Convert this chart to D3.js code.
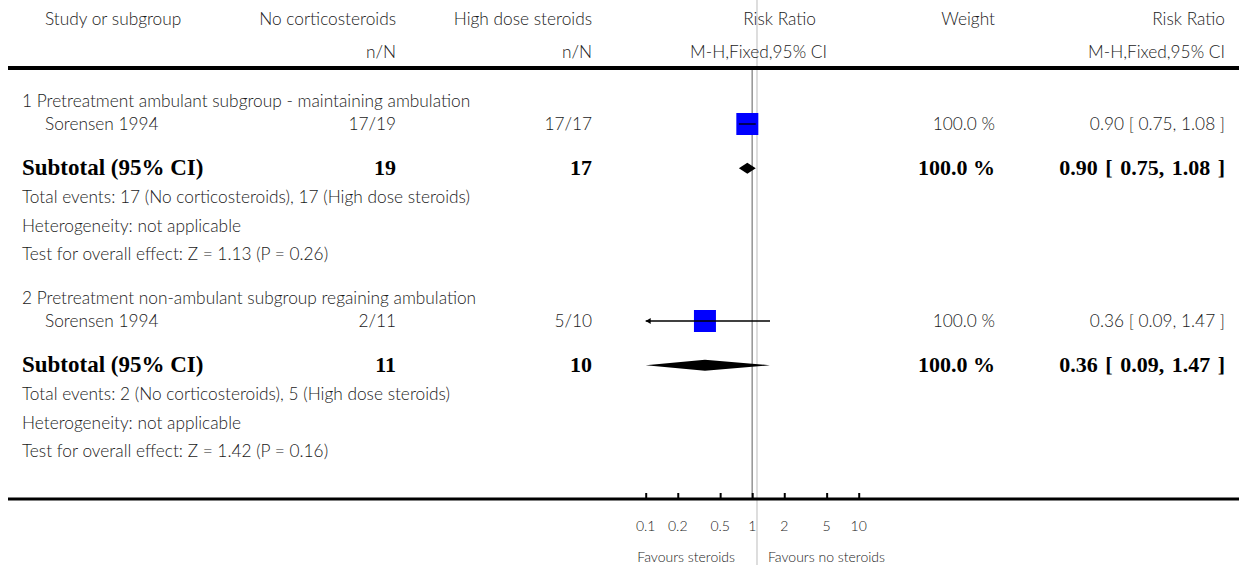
<!DOCTYPE html>
<html>
<head>
<meta charset="utf-8">
<script src="https://cdn.jsdelivr.net/npm/d3@7"></script>
<style>
  html, body { margin: 0; padding: 0; background: #fff; }
  svg { display: block; }
  .t { font-family: Lato, "Open Sans", sans-serif; font-size: 17.3px; font-weight: 300; fill: #1a1a1a; }
  .b { font-family: "Liberation Serif", "Times New Roman", serif; font-weight: bold; font-size: 22px; fill: #000; }
  .b.lab { font-size: 23px; }
  .b.ci { word-spacing: 2px; }
  .tick { font-family: Lato, sans-serif; font-size: 14px; font-weight: 300; fill: #1a1a1a; }
</style>
</head>
<body>
<svg id="chart" width="1239" height="565"></svg>
<script>
// ---------- data ----------
const headers1 = ["Study or subgroup", "No corticosteroids", "High dose steroids", "Risk Ratio", "Weight", "Risk Ratio"];
const headers2 = ["", "n/N", "n/N", "M-H,Fixed,95% CI", "", "M-H,Fixed,95% CI"];
const groupLabels = [
  "1 Pretreatment ambulant subgroup - maintaining ambulation",
  "2 Pretreatment non-ambulant subgroup regaining ambulation"
];
const studyNames = ["Sorensen 1994", "Sorensen 1994"];
const noCortico = ["17/19", "2/11"];
const highDose = ["17/17", "5/10"];
const studyRR = [0.90, 0.36];
const studyLo = [0.75, 0.09];
const studyHi = [1.08, 1.47];
const studyWeight = [100.0, 100.0];
const subtotalN1 = [19, 11];
const subtotalN2 = [17, 10];
const subRR = [0.90, 0.36];
const subLo = [0.75, 0.09];
const subHi = [1.08, 1.47];
const subWeight = [100.0, 100.0];
const totalEvents = [
  "Total events: 17 (No corticosteroids), 17 (High dose steroids)",
  "Total events: 2 (No corticosteroids), 5 (High dose steroids)"
];
const heterogeneity = ["Heterogeneity: not applicable", "Heterogeneity: not applicable"];
const overallEffect = [
  "Test for overall effect: Z = 1.13 (P = 0.26)",
  "Test for overall effect: Z = 1.42 (P = 0.16)"
];
const tickValues = [0.1, 0.2, 0.5, 1, 2, 5, 10];
const tickLabels = ["0.1", "0.2", "0.5", "1", "2", "5", "10"];
const favoursLeft = "Favours steroids";
const favoursRight = "Favours no steroids";

// ---------- layout ----------
const W = 1239, H = 565;
const svg = d3.select("#chart");
const x = d3.scaleLog().domain([0.1, 10]).range([645.7, 858.7]);
const boxSize = d3.scaleSqrt().domain([0, 100]).range([0, 22]);
const col = { study: 45, group: 22, n1: 396, n2: 592, rrHead: 816, rrSub: 827, weight: 995, ci: 1225 };
const axisY = 499;
const headerLineY = 68;

const fmt2 = d3.format(".2f");
const ciText = (r, l, h) => `${fmt2(r)} [ ${fmt2(l)}, ${fmt2(h)} ]`;
const wText = w => `${d3.format(".1f")(w)} %`;

// background light line
svg.append("line").attr("x1", 757).attr("x2", 757).attr("y1", 0).attr("y2", H)
  .attr("stroke", "#d8d8d8").attr("stroke-width", 1.7);

// null line
svg.append("line").attr("x1", x(1)).attr("x2", x(1)).attr("y1", headerLineY).attr("y2", axisY)
  .attr("stroke", "#9a9a9a").attr("stroke-width", 1.6);

// header
const hx = [col.study, col.n1, col.n2, col.rrHead, col.weight, col.ci];
const hAnchor = ["start", "end", "end", "end", "end", "end"];
headers1.forEach((h, i) => {
  svg.append("text").attr("class", "t").attr("x", hx[i]).attr("y", 25).attr("text-anchor", hAnchor[i]).text(h);
});
const hx2 = [col.study, col.n1, col.n2, col.rrSub, col.weight, col.ci];
headers2.forEach((h, i) => {
  if (!h) return;
  svg.append("text").attr("class", "t").attr("x", hx2[i]).attr("y", 58).attr("text-anchor", "end").text(h);
});
svg.append("line").attr("x1", 8).attr("x2", W).attr("y1", headerLineY).attr("y2", headerLineY)
  .attr("stroke", "#000").attr("stroke-width", 4);

// groups
const groupTop = [107, 304];
groupLabels.forEach((g, i) => {
  const y0 = groupTop[i];
  const yStudy = y0 + 23, ySub = y0 + 68, yTot = y0 + 96, yHet = y0 + 125, yTest = y0 + 153;
  const cyStudy = y0 + 17, cySub = y0 + 61.3;

  svg.append("text").attr("class", "t").attr("x", col.group).attr("y", y0).text(g);
  svg.append("text").attr("class", "t").attr("x", col.study).attr("y", yStudy).text(studyNames[i]);
  svg.append("text").attr("class", "t").attr("x", col.n1).attr("y", yStudy).attr("text-anchor", "end").text(noCortico[i]);
  svg.append("text").attr("class", "t").attr("x", col.n2).attr("y", yStudy).attr("text-anchor", "end").text(highDose[i]);
  svg.append("text").attr("class", "t").attr("x", col.weight).attr("y", yStudy).attr("text-anchor", "end").text(wText(studyWeight[i]));
  svg.append("text").attr("class", "t").attr("x", col.ci).attr("y", yStudy).attr("text-anchor", "end").text(ciText(studyRR[i], studyLo[i], studyHi[i]));

  // study box
  const s = boxSize(studyWeight[i]);
  svg.append("rect").attr("x", x(studyRR[i]) - s / 2).attr("y", cyStudy - s / 2)
    .attr("width", s).attr("height", s).attr("fill", "#0000ff");
  // CI line
  const lo = Math.max(studyLo[i], x.domain()[0]);
  const hi = Math.min(studyHi[i], x.domain()[1]);
  svg.append("line").attr("x1", x(lo)).attr("x2", x(hi)).attr("y1", cyStudy).attr("y2", cyStudy)
    .attr("stroke", "#000").attr("stroke-width", 1.3);
  if (studyLo[i] < x.domain()[0]) {
    const ax = x(lo);
    svg.append("path").attr("d", `M${ax},${cyStudy} l5,-3 l0,6 z`).attr("fill", "#000");
  }
  if (studyHi[i] > x.domain()[1]) {
    const ax = x(hi);
    svg.append("path").attr("d", `M${ax},${cyStudy} l-5,-3 l0,6 z`).attr("fill", "#000");
  }

  // subtotal
  svg.append("text").attr("class", "b lab").attr("x", col.group).attr("y", ySub).text("Subtotal (95% CI)");
  svg.append("text").attr("class", "b").attr("x", col.n1).attr("y", ySub).attr("text-anchor", "end").text(subtotalN1[i]);
  svg.append("text").attr("class", "b").attr("x", col.n2).attr("y", ySub).attr("text-anchor", "end").text(subtotalN2[i]);
  svg.append("text").attr("class", "b").attr("x", col.weight).attr("y", ySub).attr("text-anchor", "end").text(wText(subWeight[i]));
  svg.append("text").attr("class", "b ci").attr("x", col.ci).attr("y", ySub).attr("text-anchor", "end").text(ciText(subRR[i], subLo[i], subHi[i]));
  const dl = x(Math.max(subLo[i], x.domain()[0])), dh = x(Math.min(subHi[i], x.domain()[1])), dm = x(subRR[i]);
  svg.append("path").attr("d", `M${dl},${cySub} L${dm},${cySub - 5.5} L${dh},${cySub} L${dm},${cySub + 5.5} Z`).attr("fill", "#000");

  svg.append("text").attr("class", "t").attr("x", col.group).attr("y", yTot).text(totalEvents[i]);
  svg.append("text").attr("class", "t").attr("x", col.group).attr("y", yHet).text(heterogeneity[i]);
  svg.append("text").attr("class", "t").attr("x", col.group).attr("y", yTest).text(overallEffect[i]);
});

// axis
svg.append("line").attr("x1", 8).attr("x2", W).attr("y1", axisY).attr("y2", axisY)
  .attr("stroke", "#000").attr("stroke-width", 3);
const axis = d3.axisTop(x).tickValues(tickValues).tickSize(6).tickFormat("");
const ag = svg.append("g").attr("transform", `translate(0,${axisY})`).call(axis);
ag.select(".domain").remove();
ag.selectAll(".tick line").attr("stroke", "#000").attr("stroke-width", 2);
svg.selectAll(".tlab").data(tickValues).enter().append("text")
  .attr("class", "tick").attr("x", d => x(d)).attr("y", 531).attr("text-anchor", "middle")
  .text((d, i) => tickLabels[i]);
svg.append("text").attr("class", "tick").attr("x", 735).attr("y", 562).attr("text-anchor", "end").text(favoursLeft);
svg.append("text").attr("class", "tick").attr("x", 768).attr("y", 562).attr("text-anchor", "start").text(favoursRight);
</script>
</body>
</html>
